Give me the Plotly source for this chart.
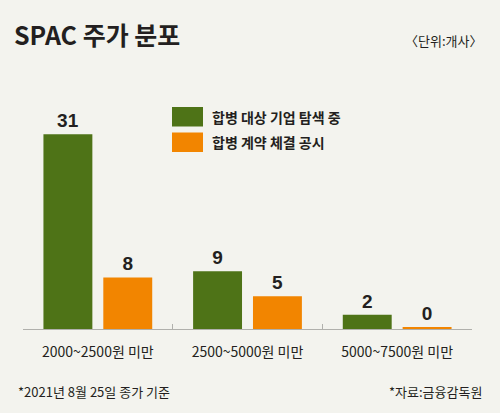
import plotly.graph_objects as go

# ---- data ----
CATEGORIES = ["2000~2500원 미만", "2500~5000원 미만", "5000~7500원 미만"]
SERIES = ["합병 대상 기업 탐색 중", "합병 계약 체결 공시"]
SEARCHING = [31, 9, 2]
CONTRACTED = [8, 5, 0]
TITLE = "SPAC 주가 분포"
UNIT = "〈단위:개사〉"
NOTE_LEFT = "*2021년 8월 25일 종가 기준"
NOTE_RIGHT = "*자료:금융감독원"

# ---- style ----
GREEN = "#4e7317"
ORANGE = "#f28500"
BG = "#f3f3ee"
TXT = "#231f20"
KR = "Noto Sans CJK KR"
NUM = "Liberation Sans Narrow, Liberation Sans, Arial"

W, H = 500, 413
ML, MR, MT, MB = 23, 28, 100, 84
PLOT_H = H - MT - MB
FLOOR = -0.27  # bars start slightly below zero so that a zero value stays visible as a thin line
PX_PER_UNIT = 6.23
Y1 = FLOOR + PLOT_H / PX_PER_UNIT


def px_x(p):
    return (p - ML) / (W - ML - MR)


def px_y(p):
    return (H - MB - p) / PLOT_H


fig = go.Figure()
for name, vals, col in [(SERIES[0], SEARCHING, GREEN), (SERIES[1], CONTRACTED, ORANGE)]:
    fig.add_trace(go.Bar(
        x=CATEGORIES, y=[v - FLOOR for v in vals], base=FLOOR, name=name,
        marker=dict(color=col, line=dict(width=0)),
        text=["<b>" + str(v) + "</b>" for v in vals], textposition="outside",
        textfont=dict(family=NUM, size=19, color=TXT),
        cliponaxis=False, showlegend=False,
    ))

fig.update_layout(
    width=W, height=H,
    paper_bgcolor=BG, plot_bgcolor=BG,
    margin=dict(l=ML, r=MR, t=MT, b=MB),
    barmode="group", bargap=0.2, bargroupgap=0.183,
    showlegend=False,
    title=dict(text="<b>" + TITLE + "</b>", xref="container", yref="container",
               x=14 / W, y=1 - 36 / H, xanchor="left", yanchor="middle",
               font=dict(family=KR, size=25, color=TXT)),
    xaxis=dict(showline=True, linecolor="#b0b0ac", linewidth=1,
               tickson="boundaries", ticks="inside", ticklen=5, tickcolor="#b0b0ac",
               tickfont=dict(family=KR, size=14, color=TXT),
               ticklabelstandoff=10, showgrid=False, zeroline=False),
    yaxis=dict(range=[FLOOR, Y1], visible=False, showgrid=False, zeroline=False),
)

# custom legend
for i, (name, col) in enumerate([(SERIES[0], GREEN), (SERIES[1], ORANGE)]):
    top = 107 + i * 25.5
    fig.add_shape(type="rect", xref="paper", yref="paper",
                  x0=px_x(172), x1=px_x(203), y0=px_y(top + 19.5), y1=px_y(top),
                  fillcolor=col, line=dict(width=0))
    fig.add_annotation(xref="paper", yref="paper", x=px_x(210), y=px_y(top + 9.5),
                       text="<b>" + name + "</b>", showarrow=False,
                       xanchor="left", yanchor="middle",
                       font=dict(family=KR, size=14, color=TXT))

fig.add_annotation(xref="paper", yref="paper", x=px_x(484), y=px_y(40),
                   text=UNIT, showarrow=False, xanchor="right", yanchor="middle",
                   font=dict(family=KR, size=13, color=TXT))
fig.add_annotation(xref="paper", yref="paper", x=px_x(16), y=px_y(392),
                   text=NOTE_LEFT, showarrow=False, xanchor="left", yanchor="middle",
                   font=dict(family=KR, size=13, color=TXT))
fig.add_annotation(xref="paper", yref="paper", x=px_x(484), y=px_y(392),
                   text=NOTE_RIGHT, showarrow=False, xanchor="right", yanchor="middle",
                   font=dict(family=KR, size=13, color=TXT))

fig.write_html("out.html")
